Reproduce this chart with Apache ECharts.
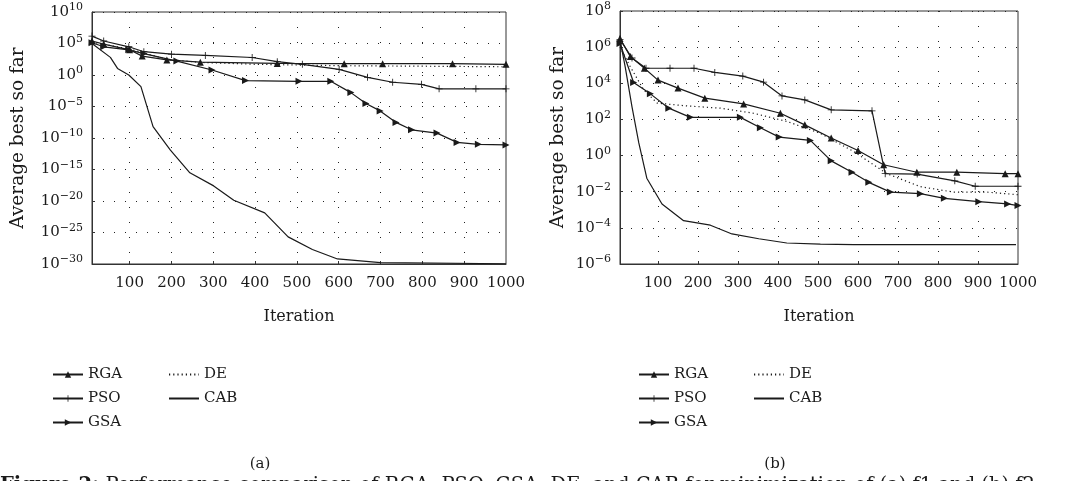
<!DOCTYPE html>
<html>
<head>
<meta charset="utf-8">
<script src="https://cdn.jsdelivr.net/npm/echarts@6/dist/echarts.min.js"></script>
<style>
html, body { margin: 0; padding: 0; background: #fff; }
#main { width: 1073px; height: 481px; }
</style>
</head>
<body>
<div id="main"></div>
<script>
// 数据 (a) f1
var aRgaX = [10, 38, 100, 130, 189, 269, 453, 613, 705, 872, 1000];
var aRgaY = [2.5e5, 8e4, 1e4, 1e3, 2.5e2, 1.1e2, 70, 63, 63, 63, 50];
var aPsoX = [10, 38, 98, 134, 200, 281, 393, 453, 513, 601, 669, 729, 798, 840, 928, 1000];
var aPsoY = [1.5e6, 2.5e5, 3e4, 5e3, 2e3, 1.3e3, 6e2, 1.3e2, 50, 8, 0.43, 0.07, 0.033, 6.3e-3, 6.3e-3, 6.3e-3];
var aGsaX = [10, 38, 98, 134, 213, 297, 377, 505, 581, 629, 665, 699, 737, 774, 835, 883, 934, 1000];
var aGsaY = [1.3e5, 3e4, 1e4, 2.5e3, 1.6e2, 6.3, 0.13, 0.1, 0.1, 1.6e-3, 3e-5, 2e-6, 3e-8, 2e-9, 6e-10, 2e-11, 1e-11, 8e-12];
var aDeX = [10, 100, 190, 270, 400, 600, 800, 1000];
var aDeY = [1.6e5, 1.3e4, 3e2, 1e2, 50, 30, 25, 20];
var aCabX = [10, 54, 71, 98, 127, 156, 197, 244, 301, 349, 423, 479, 537, 597, 700, 1000];
var aCabY = [1e5, 630, 11, 1, 1.4e-2, 6.3e-9, 1.3e-12, 3e-16, 2.5e-18, 1.3e-20, 1.3e-22, 2e-26, 2e-28, 6.3e-30, 1.6e-30, 1.1e-30];

// 数据 (b) f2
var bRgaX = [5, 31, 66, 100, 150, 217, 314, 406, 467, 533, 600, 664, 747, 847, 968, 1000];
var bRgaY = [3e6, 3e5, 6.8e4, 1.5e4, 5.4e3, 1.5e3, 7.2e2, 2.2e2, 50, 9.3, 1.9, 0.31, 0.12, 0.12, 0.1, 0.1];
var bPsoX = [5, 35, 70, 130, 190, 242, 312, 364, 410, 467, 533, 635, 668, 748, 842, 893, 1000];
var bPsoY = [2.7e6, 2.5e5, 6.8e4, 6.8e4, 6.8e4, 4e4, 2.5e4, 1.15e4, 2e3, 1.2e3, 3.4e2, 3e2, 0.1, 0.095, 0.04, 0.02, 0.02];
var bGsaX = [5, 39, 81, 127, 181, 306, 356, 403, 481, 533, 585, 627, 681, 756, 816, 902, 974, 1000];
var bGsaY = [1.6e6, 1.1e4, 2.6e3, 4.2e2, 1.3e2, 1.3e2, 35, 10.5, 6.9, 0.51, 0.12, 0.033, 9.5e-3, 7.8e-3, 4.3e-3, 2.8e-3, 2.1e-3, 1.7e-3];
var bDeX = [5, 31, 64, 98, 172, 256, 339, 422, 506, 589, 672, 756, 839, 922, 1000];
var bDeY = [1e6, 8e4, 4.4e3, 8e2, 5.6e2, 4.2e2, 2.2e2, 78, 17, 1.7, 0.1, 0.019, 9.5e-3, 9.5e-3, 6.8e-3];
var bCabX = [5, 18, 35, 52, 72, 110, 164, 231, 285, 352, 422, 506, 589, 995];
var bCabY = [2.5e6, 8e4, 5e2, 5, 0.056, 2.1e-3, 2.5e-4, 1.4e-4, 4.6e-5, 2.5e-5, 1.45e-5, 1.26e-5, 1.17e-5, 1.17e-5];

var xTicks = [100, 200, 300, 400, 500, 600, 700, 800, 900, 1000];
var xGrid = [100, 200, 300, 400, 500, 600, 700, 800, 900];

(function () {
    var myChart = echarts.init(document.getElementById('main'));
    var font = 'DejaVu Serif';
    var ink = '#1a1a1a';
    var plus = 'path://M4.4,0H5.6V4.4H10V5.6H5.6V10H4.4V5.6H0V4.4H4.4Z';

    // y 轴按指数画 (log10)
    function pairs(xs, ys) {
        return xs.map(function (x, i) { return [x, Math.log10(ys[i])]; });
    }

    function line(name, idx, xs, ys, symbol, rotate, dotted) {
        var plain = symbol === 'none';
        return {
            name: name,
            type: 'line',
            xAxisIndex: idx,
            yAxisIndex: idx,
            data: pairs(xs, ys),
            symbol: plain ? 'circle' : symbol,
            symbolSize: 7,
            symbolRotate: rotate,
            showSymbol: !plain,
            color: ink,
            itemStyle: { color: ink },
            lineStyle: { color: ink, width: 1.2, type: dotted ? [1.2, 3] : 'solid' },
            animation: false
        };
    }

    function xAxis(idx, min) {
        return {
            type: 'value', gridIndex: idx, min: min, max: 1000,
            name: 'Iteration', nameLocation: 'middle', nameGap: 45,
            nameTextStyle: { fontFamily: font, fontSize: 16, color: ink },
            axisLine: { show: true, onZero: false, lineStyle: { color: '#333', width: 1 } },
            axisTick: { show: true, inside: true, length: 3, customValues: xGrid, lineStyle: { color: '#333' } },
            axisLabel: {
                customValues: xTicks, margin: 12, fontFamily: font, fontSize: 15, color: ink,
                formatter: function (v) { return String(v); }
            },
            splitLine: { show: true, lineStyle: { color: '#222', width: 1, type: [1, 14] } }
        };
    }

    function yAxis(idx, min, max, step, gap) {
        return {
            type: 'value', gridIndex: idx, min: min, max: max, interval: step,
            name: 'Average best so far', nameLocation: 'middle', nameGap: gap,
            nameTextStyle: { fontFamily: font, fontSize: 18.5, color: ink },
            axisLine: { show: true, onZero: false, lineStyle: { color: '#333', width: 1 } },
            axisTick: { show: true, inside: true, length: 3, lineStyle: { color: '#333' } },
            axisLabel: {
                margin: 9,
                formatter: function (e) {
                    return '{b|10}{s|' + (e < 0 ? '\u2212' + (-e) : e) + '}';
                },
                rich: {
                    b: { fontFamily: font, fontSize: 15, color: ink },
                    s: { fontFamily: font, fontSize: 11, color: ink, padding: [0, 0, 9, 0] }
                }
            },
            splitLine: { show: true, lineStyle: { color: '#222', width: 1, type: [1, 10] } }
        };
    }

    function legend(left, names, noMark) {
        var lg = {
            left: left, top: 362, orient: 'vertical',
            itemWidth: 30, itemHeight: 8, itemGap: 9,
            data: names,
            textStyle: { fontFamily: font, fontSize: 15, color: ink }
        };
        if (noMark) lg.itemStyle = { opacity: 0 };
        return lg;
    }

    function label(text, x, y, size) {
        return {
            type: 'text', x: x, y: y,
            style: { text: text, fontFamily: font, fontSize: size, fill: ink, textAlign: 'center' }
        };
    }

    option = {
        backgroundColor: '#fff',
        animation: false,
        grid: [
            { left: 92, top: 12, width: 414, height: 252, show: true, borderColor: '#333', borderWidth: 1 },
            { left: 620, top: 11, width: 398, height: 253, show: true, borderColor: '#333', borderWidth: 1 }
        ],
        xAxis: [xAxis(0, 10), xAxis(1, 5)],
        yAxis: [yAxis(0, -30, 10, 5, 64), yAxis(1, -6, 8, 2, 52)],
        legend: [
            legend(47, ['RGA', 'PSO', 'GSA']),
            legend(163, ['DE', 'CAB'], true),
            legend(633, ['RGA', 'PSO', 'GSA']),
            legend(748, ['DE', 'CAB'], true)
        ],
        graphic: [
            label('(a)', 260, 457, 15),
            label('(b)', 775, 457, 15),
            {
                type: 'text', x: 0, y: 476,
                style: {
                    text: '{h|Figure 2:} Performance comparison of RGA, PSO, GSA, DE, and CAB for minimization of (a) f1 and (b) f2',
                    fontFamily: font, fontSize: 19.5, fill: ink,
                    rich: { h: { fontFamily: font, fontSize: 19.5, fontWeight: 'bold', color: ink } }
                }
            }
        ],
        series: [
            line('RGA', 0, aRgaX, aRgaY, 'triangle', 0, false),
            line('PSO', 0, aPsoX, aPsoY, plus, 0, false),
            line('GSA', 0, aGsaX, aGsaY, 'triangle', -90, false),
            line('DE', 0, aDeX, aDeY, 'none', 0, true),
            line('CAB', 0, aCabX, aCabY, 'none', 0, false),
            line('RGA', 1, bRgaX, bRgaY, 'triangle', 0, false),
            line('PSO', 1, bPsoX, bPsoY, plus, 0, false),
            line('GSA', 1, bGsaX, bGsaY, 'triangle', -90, false),
            line('DE', 1, bDeX, bDeY, 'none', 0, true),
            line('CAB', 1, bCabX, bCabY, 'none', 0, false)
        ]
    };

    myChart.setOption(option);
})();
</script>
</body>
</html>
